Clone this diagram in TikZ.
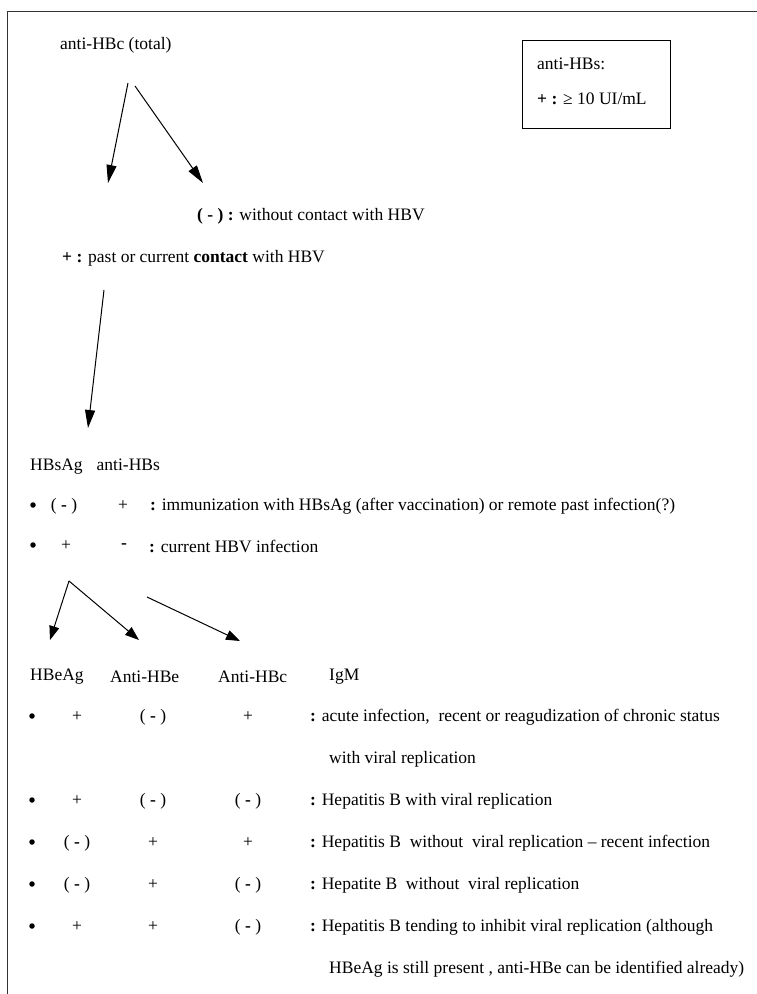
\documentclass[tikz,border=0pt]{standalone}
\usepackage{fontspec}
\setmainfont{Liberation Serif}
\usetikzlibrary{arrows.meta}
\begin{document}
\begin{tikzpicture}[x=1pt,y=-1pt,
  txt/.style={inner sep=0pt,anchor=west,font=\fontsize{17.5}{21}\selectfont},
  cell/.style={inner sep=0pt,anchor=center,font=\fontsize{17.5}{21}\selectfont},
  dot/.style={circle,fill=black,inner sep=0pt,minimum size=5.5pt},
  bigarrow/.style={line width=1pt,-{Triangle[length=18pt,width=10pt]}},
  smallarrow/.style={line width=1pt,-{Triangle[length=14pt,width=10pt]}},
  frame/.style={line width=0.8pt,draw=black!80}]
\useasboundingbox (0,0) rectangle (757,994);
% frame
\draw[frame] (757,11) -- (7,11) -- (7,994);
% top part
\node[txt] (antiHBc) at (60,45) {anti-HBc (total)};
\node[draw,line width=0.9pt,minimum width=148pt,minimum height=88pt,anchor=north west,inner sep=0pt] (box) at (522,40) {};
\node[txt] (boxA) at (537,64) {anti-HBs:};
\node[txt] (boxB) at (537,99) {\textbf{+ :} ≥ 10 UI/mL};
\coordinate (a1s) at (128,83); \coordinate (a1e) at (108,183);
\coordinate (a2s) at (135,86); \coordinate (a2e) at (203,183);
\draw[bigarrow] (a1s) -- (a1e);
\draw[bigarrow] (a2s) -- (a2e);
\node[txt] (neg) at (197,216) {\textbf{( - ) :} without contact with HBV};
\node[txt] (pos) at (62,258) {\textbf{+ :} past or current \textbf{contact} with HBV};
\coordinate (a3s) at (104,290); \coordinate (a3e) at (88,428);
\draw[bigarrow] (a3s) -- (a3e);
% HBsAg section
\node[txt] (hdr1) at (30,467) {HBsAg\hspace{0.8em}anti-HBs};
\node[dot] (b1) at (33,505) {};
\node[cell] (r1a) at (64,506) {( \textbf{-} )};
\node[cell] (r1b) at (123,506) {+};
\node[txt] (r1t) at (150,506) {\textbf{:} immunization with HBsAg (after vaccination) or remote past infection(?)};
\node[dot] (b2) at (33,545) {};
\node[cell] (r2a) at (66,546) {+};
\node[cell] (r2b) at (124,546) {\textbf{-}};
\node[txt] (r2t) at (149,546) {\textbf{:} current HBV infection};
\coordinate (ap) at (69,581);
\coordinate (t1) at (50,640); \coordinate (t2) at (139,640);
\coordinate (a6s) at (147,597); \coordinate (t3) at (240,641);
\draw[smallarrow] (ap) -- (t1);
\draw[smallarrow] (ap) -- (t2);
\draw[smallarrow] (a6s) -- (t3);
% HBeAg table
\node[txt] (h1) at (30,677) {HBeAg};
\node[txt] (h2) at (110,677) {Anti-HBe};
\node[txt] (h3) at (218,677) {Anti-HBc};
\node[txt] (h4) at (329,677) {IgM};
% row A
\node[dot] (bA) at (32,716) {};
\node[cell] (A1) at (77,717) {+};
\node[cell] (A2) at (153,717) {( \textbf{-} )};
\node[cell] (A3) at (248,717) {+};
\node[txt] (At) at (310,717) {\textbf{:} acute infection,\ \ recent or reagudization of chronic status};
\node[txt] (At2) at (329,759) {with viral replication};
% row B
\node[dot] (bB) at (32,800) {};
\node[cell] (B1) at (77,801) {+};
\node[cell] (B2) at (153,801) {( \textbf{-} )};
\node[cell] (B3) at (248,801) {( \textbf{-} )};
\node[txt] (Bt) at (310,801) {\textbf{:} Hepatitis B with viral replication};
% row C
\node[dot] (bC) at (32,842) {};
\node[cell] (C1) at (77,843) {( \textbf{-} )};
\node[cell] (C2) at (153,843) {+};
\node[cell] (C3) at (248,843) {+};
\node[txt] (Ct) at (310,843) {\textbf{:} Hepatitis B\ \ without\ \ viral replication – recent infection};
% row D
\node[dot] (bD) at (32,884) {};
\node[cell] (D1) at (77,885) {( \textbf{-} )};
\node[cell] (D2) at (153,885) {+};
\node[cell] (D3) at (248,885) {( \textbf{-} )};
\node[txt] (Dt) at (310,885) {\textbf{:} Hepatite B\ \ without\ \ viral replication};
% row E
\node[dot] (bE) at (32,926) {};
\node[cell] (E1) at (77,927) {+};
\node[cell] (E2) at (153,927) {+};
\node[cell] (E3) at (248,927) {( \textbf{-} )};
\node[txt] (Et) at (310,927) {\textbf{:} Hepatitis B tending to inhibit viral replication (although};
\node[txt] (Et2) at (329,969) {HBeAg is still present , anti-HBe can be identified already)};
\end{tikzpicture}
\end{document}
